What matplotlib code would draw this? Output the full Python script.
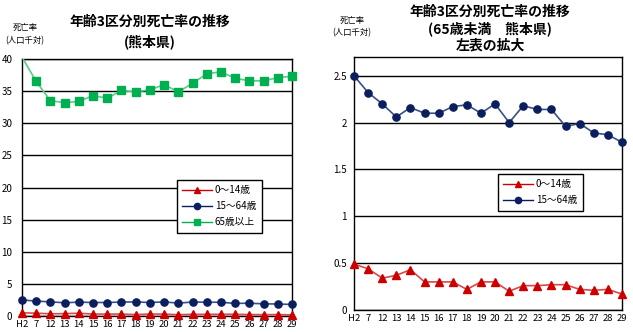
import matplotlib
matplotlib.use("Agg")
import matplotlib.pyplot as plt
from matplotlib.lines import Line2D

plt.rcParams['font.family'] = ['Noto Sans CJK JP', 'DejaVu Sans']

years = ["H2", "7", "12", "13", "14", "15", "16", "17", "18", "19", "20",
         "21", "22", "23", "24", "25", "26", "27", "28", "29"]
age_0_14 = [0.49, 0.44, 0.34, 0.37, 0.43, 0.30, 0.30, 0.30, 0.22, 0.30, 0.30,
            0.20, 0.26, 0.26, 0.27, 0.27, 0.22, 0.21, 0.22, 0.17]
age_15_64 = [2.50, 2.32, 2.20, 2.06, 2.16, 2.10, 2.10, 2.17, 2.19, 2.10, 2.20,
             2.00, 2.18, 2.14, 2.14, 1.96, 1.99, 1.89, 1.87, 1.79]
age_65 = [40.3, 36.5, 33.5, 33.2, 33.4, 34.3, 33.9, 35.1, 34.9, 35.2, 36.0,
          34.9, 36.2, 37.7, 38.0, 37.0, 36.6, 36.6, 37.1, 37.3]
labels = ["0～14歳", "15～64歳", "65歳以上"]

RED = "#CC0000"
RED_L = "#D84848"
NAVY = "#0B1F5E"
NAVY_L = "#3A4F85"
GREEN = "#00B050"
GREEN_L = "#5CCB8A"

W, H = 633, 332
fig = plt.figure(figsize=(W / 100, H / 100), dpi=100)

def px_axes(l, t, r, b):
    return fig.add_axes([l / W, 1 - b / H, (r - l) / W, (b - t) / H])

x = list(range(len(years)))

def style(ax, ymax, yticks, ylabels, ypad):
    ax.set_xlim(0, len(years) - 1)
    ax.set_ylim(0, ymax)
    ax.set_yticks(yticks)
    ax.set_yticklabels(ylabels, fontsize=7)
    ax.set_xticks(x)
    ax.set_xticklabels(years, fontsize=6.8)
    ax.tick_params(axis='x', length=0, pad=3)
    ax.tick_params(axis='y', length=0, pad=ypad)
    ax.grid(axis='y', color='black', linewidth=1)
    ax.set_axisbelow(True)
    for s in ax.spines.values():
        s.set_color('black')
        s.set_linewidth(1)

def make_legend(ax, handles, labs, left, top, axl, axt, axw, axh):
    leg = ax.legend(handles, labs, loc='upper left',
                    bbox_to_anchor=((left - axl) / axw, 1 - (top - axt) / axh),
                    fontsize=7, frameon=True, fancybox=False, framealpha=1,
                    edgecolor='black', handlelength=3.0, borderpad=0.55,
                    labelspacing=0.62, handletextpad=0.35, borderaxespad=0)
    leg.get_frame().set_linewidth(1)
    return leg

# Left chart
ax1 = px_axes(22, 59, 292, 316)
style(ax1, 40, [0, 5, 10, 15, 20, 25, 30, 35, 40],
      ["0", "5", "10", "15", "20", "25", "30", "35", "40"], 7)
ax1.plot(x, age_0_14, color=RED_L, lw=1.2, marker='^', ms=5.5,
         mfc=RED, mec=RED, clip_on=False, zorder=3)
ax1.plot(x, age_15_64, color=NAVY_L, lw=1.2, marker='o', ms=5.2,
         mfc=NAVY, mec=NAVY, clip_on=False, zorder=3)
ax1.plot(x, age_65, color=GREEN_L, lw=1.2, clip_on=True, zorder=3)
ax1.plot(x[1:], age_65[1:], ls='none', marker='s', ms=5.2,
         mfc=GREEN, mec=GREEN, clip_on=False, zorder=4)
h = [Line2D([], [], color=RED, lw=1, marker='^', ms=4.5, mfc=RED, mec=RED),
     Line2D([], [], color=NAVY, lw=1, marker='o', ms=4.5, mfc=NAVY, mec=NAVY),
     Line2D([], [], color=GREEN, lw=1, marker='s', ms=4.5, mfc=GREEN, mec=GREEN)]
make_legend(ax1, h, labels, 177, 180, 22, 59, 270, 257)

fig.text(150 / W, 1 - 22 / H, "年齢3区分別死亡率の推移", ha='center', va='center',
         fontsize=10, fontweight='bold')
fig.text(150 / W, 1 - 42 / H, "(熊本県)", ha='center', va='center',
         fontsize=10, fontweight='bold')
fig.text(25 / W, 1 - 27 / H, "死亡率", ha='center', va='center', fontsize=6)
fig.text(25 / W, 1 - 41 / H, "(人口千対)", ha='center', va='center', fontsize=6)

# Right chart
ax2 = px_axes(354, 57, 622, 310)
style(ax2, 2.7, [0, 0.5, 1, 1.5, 2, 2.5],
      ["0", "0.5", "1", "1.5", "2", "2.5"], 5)
ax2.plot(x, age_0_14, color=RED_L, lw=1.2, marker='^', ms=5.5,
         mfc=RED, mec=RED, clip_on=False, zorder=3)
ax2.plot(x, age_15_64, color=NAVY_L, lw=1.2, marker='o', ms=5.2,
         mfc=NAVY, mec=NAVY, clip_on=False, zorder=3)
make_legend(ax2, h[:2], labels[:2], 498, 174, 354, 57, 268, 253)

fig.text(490 / W, 1 - 12 / H, "年齢3区分別死亡率の推移", ha='center', va='center',
         fontsize=10, fontweight='bold')
fig.text(490 / W, 1 - 29 / H, "(65歳未満　熊本県)", ha='center', va='center',
         fontsize=10, fontweight='bold')
fig.text(490 / W, 1 - 46 / H, "左表の拡大", ha='center', va='center',
         fontsize=10, fontweight='bold')
fig.text(352 / W, 1 - 20 / H, "死亡率", ha='center', va='center', fontsize=6)
fig.text(352 / W, 1 - 33 / H, "(人口千対)", ha='center', va='center', fontsize=6)

fig.savefig("out.png", dpi=100)
